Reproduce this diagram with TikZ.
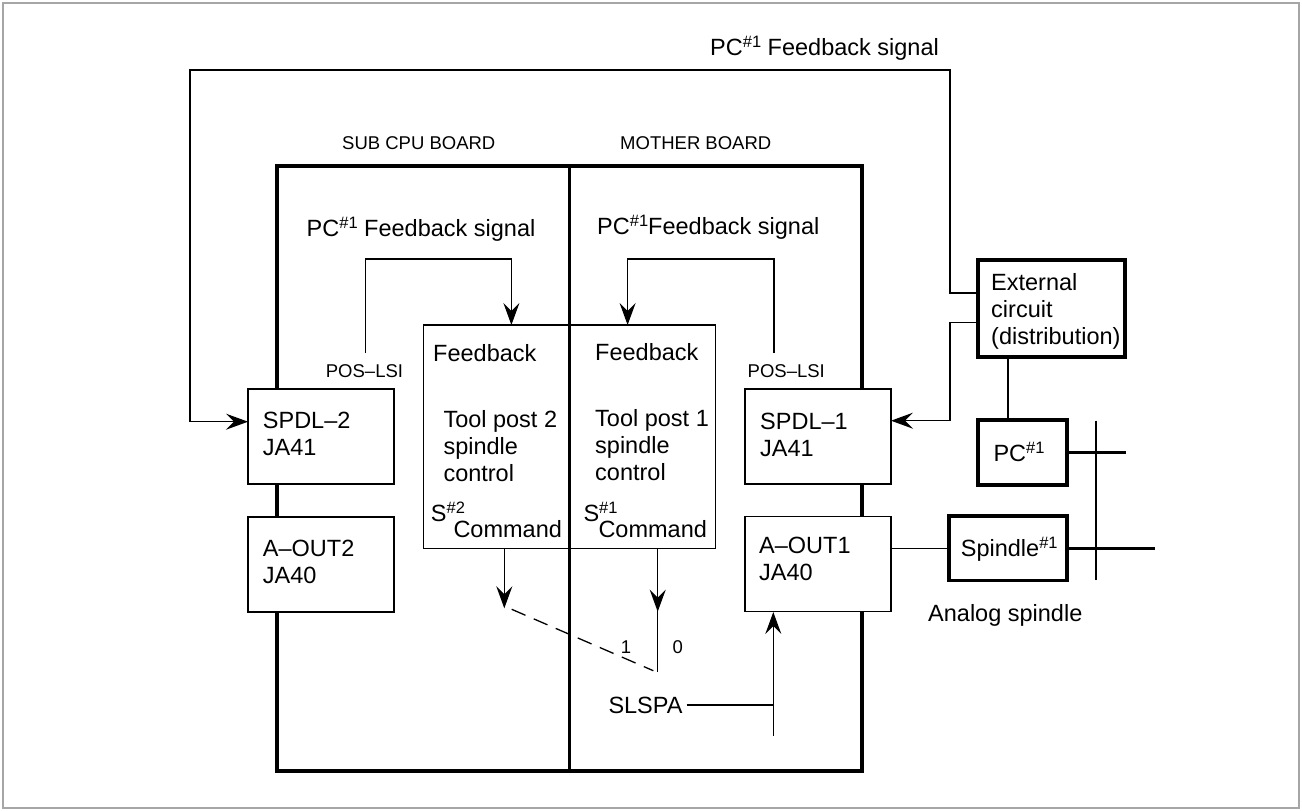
\documentclass[tikz,border=0pt]{standalone}
\usepackage{fontspec}
\setmainfont{Liberation Sans}
\usetikzlibrary{arrows.meta}
\newcommand\supr[1]{\raisebox{8pt}{\fontsize{16.5}{16.5}\selectfont #1}}
\begin{document}
\begin{tikzpicture}[x=1pt,y=-1pt,
  ln/.style={line width=1.3pt},
  thk/.style={line width=3.5pt},
  box/.style={draw, ln, fill=white, minimum width=146pt, minimum height=95pt, inner sep=0pt},
  bbox/.style={draw, thk, fill=white, inner sep=0pt},
  big/.style={font=\fontsize{23.5}{27}\selectfont, inner sep=0pt},
  small/.style={font=\fontsize{18.5}{22}\selectfont, inner sep=0pt},
  arr/.style={-{Stealth[length=22pt,width=16pt,inset=8pt]}}]
\useasboundingbox (0,0) rectangle (1302,811);
\draw[gray!70, line width=2pt] (3,3) rectangle (1299,808);
% main board
\draw[thk] (277,166) rectangle (862,771);
\draw[thk] (569.5,166) -- (569.5,771);
% boxes
\node[box] (spdl2) at (321,436.5) {};
\node[box] (aout2) at (321,564.4) {};
\node[box] (spdl1) at (818,436.5) {};
\node[box] (aout1) at (818,564.3) {};
\node[draw,ln,minimum width=292.2pt,minimum height=223.3pt,inner sep=0pt] (ctrl) at (569.6,436.65) {};
\node[bbox,minimum width=147pt,minimum height=97pt] (ext) at (1051.5,308.5) {};
\node[bbox,minimum width=89pt,minimum height=65pt] (pc) at (1022.5,452.5) {};
\node[bbox,minimum width=118pt,minimum height=64.7pt] (spin) at (1008,548.3) {};
% texts
\node[big,anchor=base west] (ttop) at (710,55) {PC\supr{\#1} Feedback signal};
\node[small,anchor=base west] (tsub) at (342,149.6) {SUB CPU BOARD};
\node[small,anchor=base west] (tmot) at (620,149.6) {MOTHER BOARD};
\node[big,anchor=base west] (tfb2) at (306.5,236.4) {PC\supr{\#1} Feedback signal};
\node[big,anchor=base west] (tfb1) at (597,234.4) {PC\supr{\#1}Feedback signal};
\node[small,anchor=base west] (pos2) at (325.7,377.6) {POS–LSI};
\node[small,anchor=base west] (pos1) at (747.5,377.6) {POS–LSI};
\node[big,anchor=base west] (fbk2) at (433,361.7) {Feedback};
\node[big,anchor=base west] (fbk1) at (595,360) {Feedback};
\node[big,anchor=west,align=left] (tp2) at (443.3,446.3) {Tool post 2\\spindle\\control};
\node[big,anchor=west,align=left] (tp1) at (595,444.7) {Tool post 1\\spindle\\control};
\node[big,anchor=base west] (s2) at (430.7,521.7) {S\supr{\#2}};
\node[big,anchor=base west] (cmd2) at (453.3,537.7) {Command};
\node[big,anchor=base west] (s1) at (583.3,521.7) {S\supr{\#1}};
\node[big,anchor=base west] (cmd1) at (598.3,537.7) {Command};
\node[big,anchor=west,align=left] (tspdl2) at (262.7,433.7) {SPDL–2\\JA41};
\node[big,anchor=west,align=left] (taout2) at (262.7,561.7) {A–OUT2\\JA40};
\node[big,anchor=west,align=left] (tspdl1) at (760,435.3) {SPDL–1\\JA41};
\node[big,anchor=west,align=left] (taout1) at (759,559) {A–OUT1\\JA40};
\node[big,anchor=west,align=left] (text) at (991,311) {External\\circuit\\(distribution)};
\node[big,anchor=base west] (tpc) at (993.3,461.7) {PC\supr{\#1}};
\node[big,anchor=base west] (tspin) at (960.7,556.7) {Spindle\supr{\#1}};
\node[big,anchor=base west] (tana) at (928,621) {Analog spindle};
\node[small] (one) at (626,646.7) {1};
\node[small] (zero) at (677.7,646.7) {0};
\node[big,anchor=base west] (slspa) at (608.3,713.4) {SLSPA};
% coordinates
\coordinate (eA) at (978,293);
\coordinate (eB) at (978,322.7);
\coordinate (sA) at (248,421.7);
\coordinate (sB) at (891,420.7);
\coordinate (p2) at (365.7,353);
\coordinate (p1) at (774,353);
\coordinate (c2) at (511.4,325);
\coordinate (c1) at (627.6,325);
\coordinate (o2) at (504.3,548.3);
\coordinate (o2e) at (504.3,608.3);
\coordinate (o1) at (657.7,548.3);
\coordinate (o1e) at (657.7,611.7);
\coordinate (sw) at (657.7,671.7);
\coordinate (d2) at (511.7,609.3);
\coordinate (d1) at (653.3,670.7);
\coordinate (sl) at (686.7,705);
\coordinate (vb) at (773.3,735.6);
\coordinate (vt) at (773.3,612);
\coordinate (pcR) at (1125.7,452.5);
\coordinate (spR) at (1155,548.3);
\coordinate (bt) at (1096,420.7);
\coordinate (bb) at (1096,580);
% connectors
\draw[ln,arr] (eA) -| (950,70) -| (190,421.7) -- (sA);
\draw[ln,arr] (eB) -| (950,420.7) -- (sB);
\draw[ln] (ext.south -| 1008,0) -- (pc.north -| 1008,0);
\draw[thk] (pc.east) -- (pcR);
\draw[thk] (spin.east) -- (spR);
\draw[ln] (bt) -- (bb);
\draw[ln] (spin.west) -- (spin.west -| aout1.east);
\draw[ln,arr] (p2) -- (365.7,259) -| (c2);
\draw[ln,arr] (p1) -- (774,259) -| (c1);
\draw[ln,arr] (o2) -- (o2e);
\draw[ln] (o1) -- (sw);
\draw[ln,arr] (o1) -- (o1e);
\draw[ln,dash pattern=on 15pt off 9pt] (d2) -- (d1);
\draw[ln] (sl) -- (773.3,705);
\draw[ln,arr] (vb) -- (vt);
\end{tikzpicture}
\end{document}
